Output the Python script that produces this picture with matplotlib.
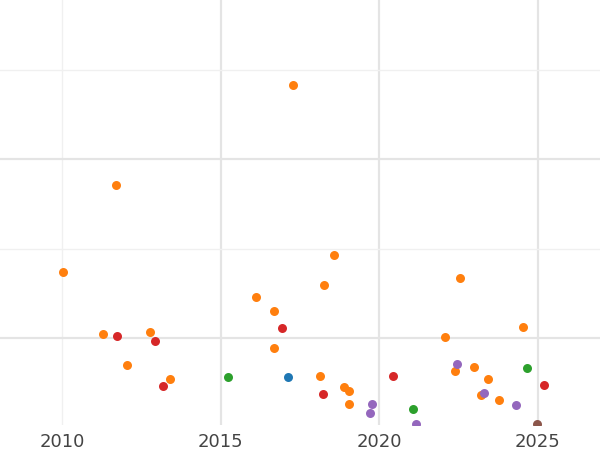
import matplotlib.pyplot as plt

# values (x = year, y in grid units)
orange_x = [2010.03, 2011.29, 2011.70, 2012.05, 2012.77, 2013.40, 2016.11, 2016.68,
            2016.68, 2017.28, 2018.13, 2018.26, 2018.57, 2018.89, 2019.05, 2019.05,
            2022.07, 2022.39, 2022.54, 2022.98, 2023.21, 2023.43, 2023.77, 2024.53]
orange_y = [1.74, 1.04, 2.71, 0.70, 1.07, 0.54, 1.46, 1.30,
            0.89, 3.83, 0.57, 1.59, 1.93, 0.45, 0.41, 0.26,
            1.01, 0.63, 1.67, 0.68, 0.36, 0.54, 0.31, 1.12]
red_x = [2011.73, 2012.93, 2013.18, 2016.93, 2018.23, 2020.43, 2025.19]
red_y = [1.02, 0.97, 0.46, 1.11, 0.37, 0.57, 0.47]
green_x = [2015.23, 2021.06, 2024.66]
green_y = [0.56, 0.20, 0.66]
blue_x = [2017.12]
blue_y = [0.56]
purple_x = [2019.71, 2019.77, 2021.16, 2022.45, 2023.30, 2024.31]
purple_y = [0.16, 0.26, 0.04, 0.71, 0.38, 0.25]
brown_x = [2024.97]
brown_y = [0.04]

series = [
    (blue_x, blue_y, "#1f77b4"),
    (orange_x, orange_y, "#ff7f0e"),
    (green_x, green_y, "#2ca02c"),
    (red_x, red_y, "#d62728"),
    (purple_x, purple_y, "#9467bd"),
    (brown_x, brown_y, "#8c564b"),
]

fig = plt.figure(figsize=(6, 4.5), dpi=100)
ax = fig.add_axes([0, 25 / 450, 1, 425 / 450])
ax.set_xlim(2008.05, 2026.96)
ax.set_ylim(0.026, 4.78)

for gx in [2010, 2015, 2020, 2025]:
    ax.axvline(gx, color="#e4e4e4" if gx != 2010 else "#f0f0f0",
               lw=1.6 if gx != 2010 else 1.0, zorder=0)
for gy in [1, 2, 3, 4]:
    ax.axhline(gy, color="#e4e4e4" if gy in (1, 3) else "#f0f0f0",
               lw=1.6 if gy in (1, 3) else 1.0, zorder=0)

for xs, ys, c in series:
    ax.scatter(xs, ys, s=42, color=c, zorder=3, clip_on=True, linewidths=0)

ax.set_xticks([2010, 2015, 2020, 2025])
ax.set_yticks([])
ax.tick_params(axis="x", length=0, labelsize=13, labelcolor="#444444", pad=6)
for s in ax.spines.values():
    s.set_visible(False)

fig.savefig("out.png", dpi=100)
